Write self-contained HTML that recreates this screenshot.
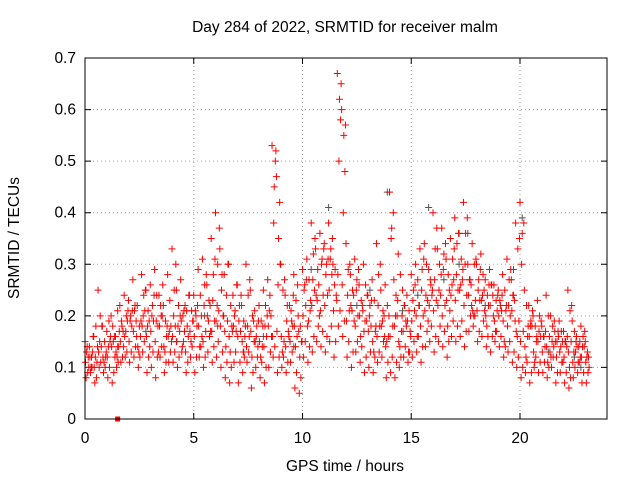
<!DOCTYPE html>
<html><head><meta charset="utf-8"><style>
html,body{margin:0;padding:0;background:#fff;}
svg{display:block;font-family:"Liberation Sans",sans-serif;}
</style></head><body>
<svg id="chart" width="640" height="480" viewBox="0 0 640 480">
<rect width="640" height="480" fill="#fff"/>
<g id="grid"></g>
<g id="ticks"></g>
<g id="marks"></g>
<rect x="85" y="58" width="522" height="361" fill="none" stroke="#000" stroke-width="1"/>
<text x="345" y="32" font-size="15.5" text-anchor="middle">Day 284 of 2022, SRMTID for receiver malm</text>
<text x="345" y="471" font-size="15.5" text-anchor="middle">GPS time / hours</text>
<text transform="translate(19,238) rotate(-90)" font-size="15.5" text-anchor="middle">SRMTID / TECUs</text>
</svg>
<script>
const hours = [0,0.2,0.4,0.6,0.8,1,1.2,1.4,1.6,1.8,2,2.2,2.4,2.6,2.8,3,3.2,3.4,3.6,3.8,4,4.2,4.4,4.6,4.8,5,5.2,5.4,5.6,5.8,6,6.2,6.4,6.6,6.8,7,7.2,7.4,7.6,7.8,8,8.2,8.4,8.6,8.8,9,9.2,9.4,9.6,9.8,10,10.2,10.4,10.6,10.8,11,11.2,11.4,11.6,11.8,12,12.2,12.4,12.6,12.8,13,13.2,13.4,13.6,13.8,14,14.2,14.4,14.6,14.8,15,15.2,15.4,15.6,15.8,16,16.2,16.4,16.6,16.8,17,17.2,17.4,17.6,17.8,18,18.2,18.4,18.6,18.8,19,19.2,19.4,19.6,19.8,20,20.2,20.4,20.6,20.8,21,21.2,21.4,21.6,21.8,22,22.2,22.4,22.6,22.8,23];
const seriesA = [.15,.14,.16,.25,.18, .17,.20,.16,.22,.24, .23,.27,.22,.28,.25, .26,.29,.24,.22,.28, .33,.25,.27,.22,.24, .24,.29,.31,.26,.35, .40,.33,.28,.30,.24, .26,.22,.30,.25,.21, .22,.25,.27,.53,.47, .30,.24,.22,.28,.20, .29,.31,.38,.33,.36, .34,.38,.30,.67,.60, .34,.28,.31,.26,.30, .24,.27,.34,.25,.26, .44,.27,.32,.25,.24, .28,.30,.33,.34,.29, .40,.33,.37,.31,.35, .39,.36,.42,.30,.34, .30,.32,.27,.29,.26, .25,.28,.31,.27,.38, .42,.25,.22,.20,.23, .18,.24,.20,.17,.19, .17,.25,.19,.16,.18, .15];
const seriesB = [.11,.12,.10,.13,.12, .12,.14,.13,.15,.16, .15,.17,.14,.18,.16, .17,.15,.18,.14,.16, .16,.15,.19,.13,.17, .16,.18,.15,.20,.17, .19,.18,.17,.16,.18, .16,.15,.14,.17,.15, .15,.14,.18,.16,.17, .16,.14,.15,.18,.17, .20,.18,.22,.24,.21, .22,.25,.21,.28,.26, .19,.22,.18,.20,.17, .17,.15,.16,.18,.14, .16,.18,.15,.17,.19, .19,.20,.18,.21,.22, .21,.22,.20,.23,.24, .23,.25,.22,.24,.21, .21,.23,.20,.22,.19, .20,.19,.18,.21,.17, .15,.14,.16,.13,.15, .13,.14,.12,.15,.13, .12,.13,.11,.14,.12, .11];
const seriesC = [.08,.09,.07,.10,.09, .08,.07,.10,.11,.12, .11,.12,.10,.13,.09, .10,.08,.12,.09,.11, .11,.10,.13,.09,.12, .09,.12,.10,.13,.11, .12,.10,.08,.07,.11, .07,.09,.11,.06,.10, .08,.07,.10,.12,.09, .10,.09,.11,.06,.05, .12,.11,.13,.15,.14, .13,.15,.12,.18,.16, .12,.10,.13,.11,.09, .10,.09,.11,.12,.08, .09,.08,.10,.12,.11, .12,.13,.11,.14,.15, .13,.15,.14,.12,.16, .15,.16,.14,.17,.18, .15,.16,.14,.13,.15, .14,.12,.13,.11,.10, .08,.09,.07,.10,.09, .09,.08,.10,.07,.09, .07,.06,.08,.09,.07, .07];
const seriesD = [.13,.10,.12,.15,.11, .14,.18,.12,.19,.17, .19,.21,.13,.20,.18, .20,.19,.22,.13,.17, .20,.18,.14,.21,.15, .21,.14,.22,.19,.23, .22,.25,.14,.13,.20, .19,.13,.18,.12,.16, .12,.18,.21,.38,.26, .13,.19,.21,.14,.12, .25,.19,.27,.23,.30, .28,.31,.26,.50,.40, .24,.21,.25,.16,.19, .20,.13,.22,.19,.15, .35,.20,.14,.22,.13, .23,.16,.25,.24,.27, .27,.25,.29,.18,.26, .28,.26,.30,.27,.20, .25,.24,.18,.26,.17, .23,.15,.22,.24,.16, .30,.12,.18,.11,.17, .16,.11,.15,.12,.14, .15,.10,.13,.11,.14, .12];
const seriesE = [.14,.12,.18,.20,.15, .19,.15,.21,.18,.20, .20,.22,.18,.24,.21, .22,.24,.20,.19,.23, .25,.22,.20,.18,.21, .20,.24,.26,.23,.28, .30,.28,.24,.22,.21, .22,.19,.24,.20,.18, .19,.22,.24,.45,.35, .25,.22,.19,.23,.18, .26,.27,.32,.29,.31, .30,.33,.29,.62,.55, .29,.25,.27,.23,.26, .22,.23,.28,.21,.22, .37,.24,.28,.22,.21, .25,.27,.29,.30,.26, .33,.30,.32,.28,.31, .34,.31,.36,.27,.30, .27,.28,.24,.26,.23, .22,.25,.27,.24,.33, .36,.22,.19,.18,.20, .16,.20,.18,.15,.17, .15,.21,.17,.14,.16, .13];
const seriesF = [.09,.10,.08,.11,.10, .10,.09,.11,.12,.13, .13,.14,.12,.15,.12, .13,.12,.14,.11,.13, .13,.12,.15,.11,.14, .12,.14,.12,.16,.14, .15,.13,.11,.10,.13, .11,.12,.13,.09,.12, .11,.10,.13,.14,.12, .12,.11,.13,.09,.08, .15,.14,.16,.18,.17, .16,.18,.15,.21,.19, .15,.13,.15,.14,.12, .13,.12,.13,.15,.11, .12,.11,.12,.14,.13, .15,.16,.14,.17,.18, .16,.18,.17,.15,.19, .18,.19,.17,.20,.20, .17,.19,.16,.16,.17, .16,.14,.15,.13,.12, .10,.11,.09,.12,.11, .11,.10,.12,.09,.11, .09,.08,.10,.11,.09, .09];
const seriesG = [.12,.13,.11,.14,.12, .15,.16,.14,.17,.19, .18,.19,.16,.21,.19, .19,.18,.20,.16,.18, .18,.17,.21,.16,.19, .18,.20,.17,.22,.19, .21,.20,.19,.18,.17, .17,.16,.16,.19,.14, .14,.16,.20,.50,.42, .15,.17,.18,.16,.15, .22,.21,.25,.26,.24, .24,.28,.24,.58,.48, .21,.24,.20,.22,.19, .18,.17,.18,.20,.16, .18,.20,.17,.19,.17, .21,.22,.20,.23,.24, .23,.24,.22,.25,.27, .25,.27,.24,.26,.23, .23,.25,.22,.24,.21, .21,.21,.20,.23,.19, .17,.16,.18,.15,.16, .14,.16,.14,.17,.15, .14,.15,.13,.15,.14, .12];
const seriesH = [.10,.16,.14,.18,.13, .16,.12,.17,.14,.21, .21,.16,.19,.25,.14, .24,.13,.26,.18,.15, .30,.20,.17,.24,.19, .22,.16,.28,.17,.31, .37,.20,.30,.17,.26, .24,.18,.27,.15,.19, .18,.20,.16,.52,.30, .27,.16,.24,.26,.15, .27,.23,.35,.20,.33, .31,.35,.23,.65,.57, .30,.19,.29,.21,.24, .23,.18,.30,.16,.20, .40,.23,.20,.18,.16, .26,.22,.31,.19,.25, .37,.28,.34,.21,.33, .36,.29,.39,.22,.31, .29,.21,.26,.20,.24, .24,.22,.29,.19,.35, .38,.18,.21,.16,.19, .17,.13,.19,.16,.11, .16,.22,.15,.12,.17, .10];
const grayHours = [0.3,1.5,2.8,4.2,5.5,6.1,7.3,8.2,9.6,10.4,11.2,12.5,13.1,13.9,14.6,15.3,15.8,16.5,17.2,17.6,18.4,19.7,20.1,21.3,22.5,22.8];
const grayValues = [.10,.14,.17,.15,.20,.18,.13,.16,.14,.29,.41,.22,.25,.44,.21,.24,.41,.27,.30,.36,.22,.29,.39,.13,.12,.10];
const xTicks = [0,5,10,15,20];
const yTicks = [0,0.1,0.2,0.3,0.4,0.5,0.6,0.7];
const yTickLabels = ["0","0.1","0.2","0.3","0.4","0.5","0.6","0.7"];

const NS = "http://www.w3.org/2000/svg";
const X0=85, X1=607, Y0=419, Y1=58;
function xs(h){return X0+(h/24)*(X1-X0);}
function ys(v){return Y0-(v/0.7)*(Y0-Y1);}
function mk(tag,attrs,parent){const e=document.createElementNS(NS,tag);for(const k in attrs)e.setAttribute(k,attrs[k]);parent.appendChild(e);return e;}
const grid=document.getElementById('grid'), ticks=document.getElementById('ticks'), marks=document.getElementById('marks');

xTicks.forEach((t,i)=>{
  const x=xs(t);
  if(t>0){const g=mk('line',{x1:x,x2:x,y1:Y1,y2:Y0,stroke:'#a0a0a0','stroke-dasharray':'1,3'},grid);
  
  }
  const tk=mk('path',{d:`M${x},${Y0}v-6M${x},${Y1}v6`,stroke:'#000'},ticks);
  
  
  const lb=mk('text',{x:x,y:443,'font-size':15.5,'text-anchor':'middle'},ticks);
  lb.textContent=String(t);
  
  
});
yTicks.forEach((t,i)=>{
  const y=ys(t);
  if(t>0&&t<0.7){const g=mk('line',{x1:X0,x2:X1,y1:y,y2:y,stroke:'#a0a0a0','stroke-dasharray':'1,3'},grid);
  
  }
  const tk=mk('path',{d:`M${X0},${y}h6M${X1},${y}h-6`,stroke:'#000'},ticks);
  
  
  const lb=mk('text',{x:76,y:y+5,'font-size':15.5,'text-anchor':'end'},ticks);
  lb.textContent=yTickLabels[i];
  
  
});
function plus(h,v,color){
  const x=xs(h), y=ys(v);
  const p=mk('path',{d:`M${x-3.5},${y}h7M${x},${y-3.5}v7`,stroke:color,'stroke-width':1,fill:'none'},marks);
  
  
}
grayHours.forEach((h,i)=>plus(h,grayValues[i],'#555'));
const allSeries=[seriesA,seriesB,seriesC,seriesD,seriesE,seriesF,seriesG,seriesH];
allSeries.forEach((s,k)=>{
  hours.forEach((h,i)=>{ if(s[i]!==undefined) plus(h+k*0.025,s[i],'#ff0000'); });
});
const sq=mk('rect',{x:xs(1.5)-2.5,y:ys(0)-2.5,width:5,height:5,fill:'#ff0000'},marks);


</script>
</body></html>
